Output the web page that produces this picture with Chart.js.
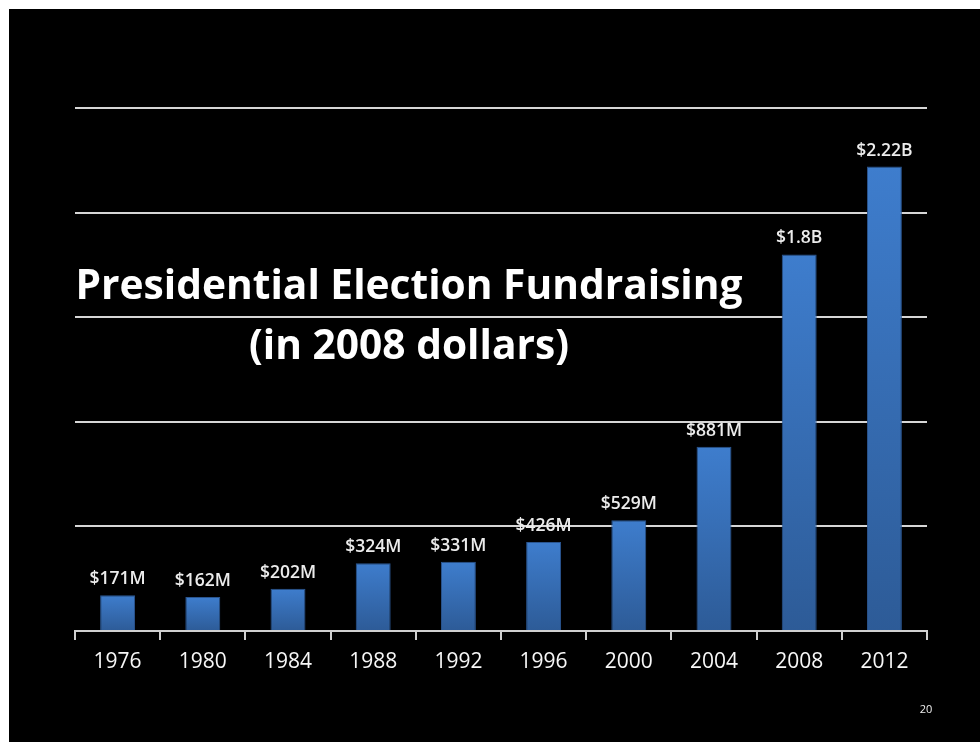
<!DOCTYPE html>
<html>
<head>
<meta charset="utf-8">
<script src="https://cdn.jsdelivr.net/npm/chart.js@4.4.0/dist/chart.umd.min.js"></script>
<style>
  html, body { margin: 0; padding: 0; background: #ffffff; }
  #slide { position: absolute; left: 9px; top: 9px; width: 971px; height: 733px; background: #000000; }
  canvas { display: block; }
</style>
</head>
<body>
<div id="slide"><canvas id="fundChart" width="971" height="733"></canvas></div>
<script>
// election years and money raised, in millions of 2008 dollars
const years = ["1976", "1980", "1984", "1988", "1992", "1996", "2000", "2004", "2008", "2012"];
const raised = [171, 162, 202, 324, 331, 426, 529, 881, 1800, 2220];
const valueLabels = ["$171M", "$162M", "$202M", "$324M", "$331M", "$426M", "$529M", "$881M", "$1.8B", "$2.22B"];

const titleLines = ["Presidential Election Fundraising", "(in 2008 dollars)"];
const pageNumber = "20";

const FONT = "'Open Sans', 'DejaVu Sans', sans-serif";

// each bar fades from lighter blue at the top to darker blue at its base
function barGradient(context) {
    const chart = context.chart;
    const area = chart.chartArea;
    if (!area || context.dataIndex === undefined) return "#3a74c0";
    const y = chart.scales.y;
    const top = y.getPixelForValue(raised[context.dataIndex]);
    const bottom = y.getPixelForValue(0);
    const g = chart.ctx.createLinearGradient(0, top, 0, bottom);
    g.addColorStop(0, "#3e7dcd");
    g.addColorStop(1, "#2d5b97");
    return g;
}

// value captions over the bars, slide title and page number
const overlay = {
    id: "overlay",
    afterDatasetsDraw(chart) {
        const ctx = chart.ctx;
        const meta = chart.getDatasetMeta(0);
        ctx.save();
        ctx.fillStyle = "#ececec";
        ctx.font = "600 17.5px " + FONT;
        ctx.textAlign = "center";
        ctx.textBaseline = "middle";
        meta.data.forEach((bar, i) => {
            ctx.fillText(valueLabels[i], bar.x, bar.y - 16);
        });
        ctx.restore();
    },
    afterDraw(chart) {
        const ctx = chart.ctx;
        ctx.save();
        ctx.fillStyle = "#ffffff";
        ctx.textAlign = "center";
        ctx.textBaseline = "middle";
        ctx.font = "bold 40px " + FONT;
        const w = ctx.measureText(titleLines[0]).width;
        const size = 40 * 667 / w;
        ctx.font = "bold " + size.toFixed(1) + "px " + FONT;
        ctx.fillText(titleLines[0], 400, 278);
        ctx.fillText(titleLines[1], 400, 338);

        ctx.font = "11px " + FONT;
        ctx.fillStyle = "#eeeeee";
        ctx.fillText(pageNumber, 917, 701);
        ctx.restore();
    }
};

new Chart(document.getElementById("fundChart"), {
    type: "bar",
    data: {
        labels: years,
        datasets: [{
            data: raised,
            backgroundColor: barGradient,
            borderColor: "#2a5590",
            borderWidth: 1,
            categoryPercentage: 1,
            barPercentage: 0.41
        }]
    },
    options: {
        responsive: false,
        animation: false,
        events: [],
        layout: { padding: { left: 66, right: 53, top: 99, bottom: 0 } },
        plugins: {
            legend: { display: false },
            tooltip: { enabled: false }
        },
        scales: {
            x: {
                offset: true,
                grid: {
                    offset: true,
                    drawOnChartArea: false,
                    drawTicks: true,
                    tickLength: 9,
                    color: "#d0d0d0",
                    lineWidth: 2
                },
                border: { display: true, color: "#d0d0d0", width: 2 },
                ticks: {
                    color: "#f7f7f7",
                    font: { family: FONT, size: 21, weight: "500" },
                    padding: 9,
                    maxRotation: 0
                },
                afterFit(scale) { scale.height = 111; }
            },
            y: {
                min: 0,
                max: 2500,
                ticks: { display: false, stepSize: 500 },
                border: { display: false },
                grid: { color: "#d6d6d6", lineWidth: 2, drawTicks: false },
                afterFit(scale) { scale.width = 0; }
            }
        }
    },
    plugins: [overlay]
});
</script>
</body>
</html>
